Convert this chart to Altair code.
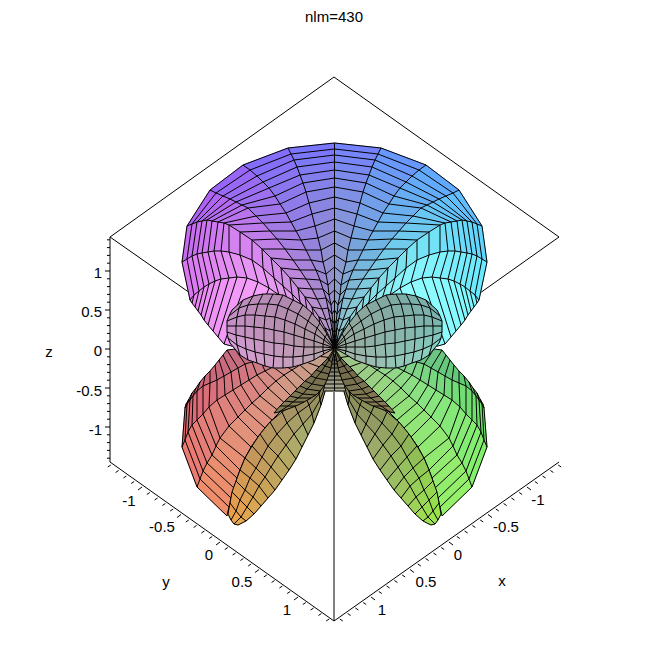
import altair as alt
import pandas as pd

# ---------- values (horizontal, vertical position in picture units) ----------
TOP_M0 = [(334.5, y) for y in [143,149,155,162,170,178,187,197,208,219,231,243,255,267,279,290,300,310,320,330,340,348]]
TOP_M1 = [(288,148),(291,154),(294,160),(297,167),(300,175),(303,183),(306,192),(309,203),(312,214),(315,226),(318,238),(321,250),(323,262),(326,274),(328,285),(329,295),(331,305),(332,314),(333,323),(333,332),(334,341),(334.5,348)]
TOP_M2 = [(243,165),(250,170),(257,176),(263,182),(269,188),(275,196),(280,204),(286,213),(291,222),(296,231),(301,240),(306,250),(311,260),(316,270),(320,280),(323,289),(326,298),(328,308),(330,318),(332,328),(333,339),(334.5,348)]
TOP_M3 = [(210,190),(216,193),(223,196),(230,199),(236,202),(242,205),(248,208),(256,216),(263,223),(270,231),(277,239),(285,249),(293,260),(300,270),(306,279),(312,289),(317,299),(322,309),(326,320),(330,331),(332,340),(334.5,348)]
TOP_M4 = [(187,226),(192,224),(197,222),(202,221),(207,220),(212,221),(218,222),(224,223),(229,225),(240,232),(252,240),(262,249),(271,258),(281,268),(290,278),(298,288),(305,297),(312,307),(319,317),(325,328),(331,340),(334.5,348)]
TOP_M5 = [(182,262),(187,259),(192,256),(197,254),(202,253),(208,252),(214,251),(221,251),(229,252),(240,255),(252,260),(263,268),(274,278),(283,286),(292,294),(300,302),(307,310),(314,318),(320,326),(326,334),(332,343),(334.5,348)]
TOP_M6 = [(190,300),(194,295),(199,291),(204,287),(209,284),(215,281),(221,279),(229,278),(237,277),(247,278),(258,282),(269,288),(279,295),(288,302),(296,309),(303,315),(310,321),(316,327),(322,333),(327,339),(332,345),(334.5,348)]
TOP_M7 = [(190,300),(192,303),(195,307),(198,311),(201,315),(204,320),(208,325),(213,331),(218,337),(224,344),(235,347),(245,350),(255,352),(265,353),(275,353),(285,353),(295,352),(305,351),(315,351),(324,350),(332,348),(334.5,348)]
TOP_MESH = [TOP_M0, TOP_M1, TOP_M2, TOP_M3, TOP_M4, TOP_M5, TOP_M6, TOP_M7]

LOBE_S = [(186,404),(189,399),(192,393),(196,388),(200,382),(205,376),(210,371),(215,365),(219,360),(223,355),(227,350),(235,349),(245,349),(255,349),(265,349),(275,349),(285,350),(297,350),(312,350),(328,349)]
LOBE_A1 = [(185,408),(187,404),(190,400),(193,396),(197,391),(203,386),(210,383),(217,380),(224,376),(231,372),(238,368),(245,364),(252,362),(260,360),(268,358),(276,356),(285,354),(296,353),(310,351),(328,349)]
LOBE_A2 = [(182,447),(185,440),(188,432),(192,425),(197,420),(203,414),(209,407),(217,400),(225,395),(233,390),(241,385),(249,380),(257,375),(265,371),(273,367),(281,363),(290,360),(298,358),(312,354),(328,350)]
LOBE_A3 = [(197,487),(200,479),(203,471),(207,463),(212,455),(216,446),(220,438),(229,426),(238,417),(245,410),(252,403),(260,396),(268,388),(276,381),(284,375),(292,370),(300,365),(306,362),(318,356),(330,350)]
LOBE_D = [(227,516),(229,507),(231,498),(234,488),(237,478),(240,470),(245,458),(251,447),(258,437),(265,428),(272,420),(280,412),(288,406),(296,401),(305,397),(314,390),(322,384),(328,370),(332,358),(334,350)]
LOBE_MESH = [LOBE_S, LOBE_A1, LOBE_A2, LOBE_A3, LOBE_D]

WEDGE_ROWS = [
    [(228,514),(231,520),(234,524),(238,525)],
    [(230,503),(236,511),(241,517),(246,521)],
    [(232,492),(240,500),(247,507),(254,514)],
    [(236,481),(245,490),(253,497),(261,506)],
    [(240,470),(250,478),(259,486),(268,498)],
    [(245,458),(256,468),(265,477),(275,490)],
    [(252,446),(262,457),(271,467),(282,480)],
    [(260,434),(268,446),(278,456),(289,470)],
    [(270,422),(277,434),(286,445),(296,459)],
    [(282,412),(287,423),(294,434),(302,447)],
    [(294,404),(298,413),(303,424),(308,435)],
    [(306,398),(309,405),(312,414),(314,423)],
    [(318,388),(319,394),(320,400),(321,405)],
    [(326,375),(326,379),(327,382),(327,385)],
    [(333,352),(333,353),(334,354),(334,355)],
]
LENS_ROWS = [
    [(232,310),(229,316),(227,321),(227,326),(227,332),(228,338),(230,343)],
    [(243,300),(239,308),(237,317),(236,326),(236,335),(237,345),(240,355)],
    [(253,296),(248,305),(245,315),(245,326),(245,337),(246,349),(248,360)],
    [(263,294),(258,304),(255,315),(254,327),(254,339),(255,352),(257,363)],
    [(273,294),(268,304),(265,316),(264,328),(264,341),(264,354),(265,366)],
    [(283,295),(278,305),(275,317),(274,330),(274,343),(274,356),(273,368)],
    [(293,300),(288,309),(285,320),(284,332),(284,344),(283,357),(283,368)],
    [(303,305),(298,314),(295,324),(294,335),(294,346),(293,357),(293,367)],
    [(312,313),(308,321),(305,329),(304,338),(304,347),(303,356),(303,364)],
    [(320,323),(317,328),(315,334),(314,341),(314,347),(314,354),(314,360)],
    [(327,334),(325,337),(324,340),(323,344),(323,347),(323,351),(324,354)],
    [(334.5,348),(334.5,348),(334.5,348),(334.5,348),(334.5,348),(334.5,348),(334.5,348)],
]
OLIVE_ROWS = [
    [(334,349),(334,350),(334,352)],
    [(328,358),(329,360),(332,362)],
    [(322,364),(325,366),(331,368)],
    [(316,370),(321,372),(329,374)],
    [(311,376),(316,378),(327,380)],
    [(305,381),(312,384),(324,386)],
    [(300,386),(307,389),(320,391)],
    [(295,391),(303,394),(316,395)],
    [(290,396),(298,398),(311,398)],
    [(285,401),(293,402),(304,402)],
    [(280,406),(288,406),(296,406)],
    [(274,413),(279,412),(285,410)],
]
LADDER_ROWS = [
    [(334.5,356),(333,356)],[(334.5,360),(331,360)],[(334.5,364),(330,364)],[(334.5,368),(329,368)],
    [(334.5,372),(328,372)],[(334.5,376),(327,376)],[(334.5,380),(326,380)],[(334.5,384),(325,384)],
    [(334.5,388),(324,388)],[(334.5,391),(323,391)],
]

# colour anchors: rows run from the outer edge towards the centre
TOP_L = [["#7878ff","#7a70ff","#8c68fb","#a060f8","#bb60f0","#d070f0","#e078f0","#f088f8"],
         ["#9090d0","#9088d8","#9c80e0","#b080e0","#d080f0","#e090f0","#f0a0f8","#f8a0f8"],
         ["#9a9ab8","#a090b8","#a890b8","#b098b8","#b8a0c0","#c0a0c8","#c8a8d0","#d0a8d0"]]
TOP_R = [["#7878ff","#6f8cff","#60a0ff","#60b0ff","#60c8ff","#60e0ff","#70f0ff","#80ffff"],
         ["#9090d0","#80a0d8","#70a8e0","#70c0e8","#70d8f0","#80f0f8","#90f8ff","#90ffff"],
         ["#9a9ab8","#90a8b0","#90b8c0","#98c0c0","#98c8c8","#a0d0d0","#a0d8d8","#a8e0e0"]]
RED = [["#d05a70","#e06070","#e86a70","#f08870","#f09060"],
       ["#c06880","#d06f80","#d87c80","#e08a80","#dd9a7e"],
       ["#b8708a","#c0808a","#c89088","#c8a090","#b8a088"]]
GREEN = [["#50c070","#60d860","#78f068","#90f070","#98f060"],
         ["#60c080","#70d080","#80e080","#90e880","#90e070"],
         ["#70b090","#88c098","#98c898","#a0c890","#a0b888"]]
WEDGE_L = [["#f0a048","#f0a048","#f0a850","#e8a850"],
           ["#d09858","#c89858","#c8a058","#c8a858"],
           ["#a89060","#a89868","#a8a868","#a8b070"],
           ["#807850","#807850","#888858","#888858"]]
WEDGE_R = [["#98e848","#98e848","#a0e850","#a0e050"],
           ["#90c850","#90c858","#98c860","#a0c060"],
           ["#889858","#909860","#98a068","#a0a870"],
           ["#807c50","#807c50","#888858","#888858"]]
LENS_L = [["#c090c0","#c890c8","#d8a0d8"],["#b088b0","#b890b0","#d0a0c8"],["#a09898","#a89898","#b0a8a8"]]
LENS_R = [["#78b0b0","#78b8b0","#88d8c8"],["#80a8a0","#88b0a8","#98c8b8"],["#98a298","#98a898","#a8b0a8"]]
OLIVE = [["#6a6448","#6a6448","#6a6448"],["#7a7450","#7a7450","#7a7450"],["#8a8058","#8a8058","#8a8058"]]
LADDER = [["#55503c","#55503c"],["#8a8a70","#8a8a70"],["#b0b098","#b0b098"]]

TITLE = "nlm=430"
Z_LABELS = [("1",273),("0.5",312),("0",351),("-0.5",391),("-1",430)]
Y_LABELS = [("-1",129,501),("-0.5",162,527),("0",209,555),("0.5",242,582),("1",287,610)]
X_LABELS = [("-1",538,500),("-0.5",506,527),("0",458,555),("0.5",426,582),("1",382,610)]
NAME_LABELS = [("z",49,352),("y",166,582),("x",502,581)]
FRAME_EDGES = [[(334,77),(110,237)],[(334,77),(559,237)],[(110,237),(190,293)],[(559,237),(480,293)],
               [(110,237),(110,462)],[(110,462),(334,621)],[(334,621),(559,462)],[(334,621),(334,392)]]
TICK_STEPS = list(range(-14, 15))

# ---------- helpers ----------
def hex2rgb(h):
    return [int(h[i:i+2], 16) for i in (1, 3, 5)]

def mix(a, b, t):
    return [a[i] + (b[i] - a[i]) * t for i in range(3)]

def shade(table, u, v):
    r = u * (len(table) - 1)
    i = min(int(r), len(table) - 2)
    rr = r - i
    c = v * (len(table[0]) - 1)
    j = min(int(c), len(table[0]) - 2)
    cc = c - j
    top = mix(hex2rgb(table[i][j]), hex2rgb(table[i][j+1]), cc)
    bot = mix(hex2rgb(table[i+1][j]), hex2rgb(table[i+1][j+1]), cc)
    m = mix(top, bot, rr)
    return "#%02x%02x%02x" % tuple(int(round(x)) for x in m)

def flip(rows):
    return [[(669 - x, y) for x, y in row] for row in rows]

def cols_to_rows(cols):
    return [list(r) for r in zip(*cols)]

X = alt.X("x:Q", scale=alt.Scale(domain=[8, 661]), axis=None)
Y = alt.Y("y:Q", scale=alt.Scale(domain=[661, 8]), axis=None)

def line_layer(recs, width=1.0, color="#000000"):
    return alt.Chart(pd.DataFrame(recs)).mark_line(strokeWidth=width, color=color).encode(
        x=X, y=Y, detail="id:N", order=alt.Order("o:Q"))

def mesh_layers(rows, table, tag):
    nr, nc = len(rows), len(rows[0])
    fills, lines = [], []
    for i in range(nr - 1):
        for j in range(nc - 1):
            c = shade(table, (i + .5) / (nr - 1), (j + .5) / (nc - 1))
            pid = f"{tag}{i}_{j}"
            for o, (a, b) in enumerate([(i, j), (i, j+1), (i+1, j+1), (i+1, j)]):
                fills.append(dict(id=pid, o=o, x=rows[a][b][0], y=rows[a][b][1], c=c))
    for i in range(nr):
        for j in range(nc):
            lines.append(dict(id=f"r{i}", o=j, x=rows[i][j][0], y=rows[i][j][1]))
    for j in range(nc):
        for i in range(nr):
            lines.append(dict(id=f"c{j}", o=i, x=rows[i][j][0], y=rows[i][j][1]))
    fill = alt.Chart(pd.DataFrame(fills)).mark_line(strokeWidth=0.8).encode(
        x=X, y=Y, detail="id:N", order=alt.Order("o:Q"),
        fill=alt.Fill("c:N", scale=None), stroke=alt.Stroke("c:N", scale=None))
    return [fill, line_layer(lines)]

# ---------- frame and ticks ----------
frame = []
for k, edge in enumerate(FRAME_EDGES):
    for o, (x, y) in enumerate(edge):
        frame.append(dict(id=f"e{k}", o=o, x=x, y=y))
for s in TICK_STEPS:
    v = s / 10
    major = s % 5 == 0
    zy = 349 - 78 * v
    frame += [dict(id=f"z{s}", o=0, x=110, y=zy), dict(id=f"z{s}", o=1, x=105 if major else 107, y=zy)]
    ax, ay = 220 + 78 * v, 542 + 55 * v
    dx, dy = (4, 3) if major else (3, 2)
    frame += [dict(id=f"y{s}", o=0, x=ax, y=ay), dict(id=f"y{s}", o=1, x=ax - dx, y=ay + dy)]
    bx, by = 449 - 78 * v, 542 + 55 * v
    frame += [dict(id=f"x{s}", o=0, x=bx, y=by), dict(id=f"x{s}", o=1, x=bx + dx, y=by + dy)]

# ---------- text ----------
texts = [dict(t=t, x=x, y=y) for t, x, y in Y_LABELS + X_LABELS + NAME_LABELS]
texts.append(dict(t=TITLE, x=334, y=17))
text_layer = alt.Chart(pd.DataFrame(texts)).mark_text(
    font="Liberation Sans", fontSize=15, color="#000000", align="center", baseline="middle"
).encode(x=X, y=Y, text="t:N")
ztext = alt.Chart(pd.DataFrame([dict(t=t, x=102, y=y) for t, y in Z_LABELS])).mark_text(
    font="Liberation Sans", fontSize=15, color="#000000", align="right", baseline="middle"
).encode(x=X, y=Y, text="t:N")

# ---------- assemble, back to front ----------
top_rows = cols_to_rows(TOP_MESH)
lobe_rows = cols_to_rows(LOBE_MESH)
layers = [line_layer(frame)]
layers += mesh_layers(lobe_rows, RED, "rl")
layers += mesh_layers(flip(lobe_rows), GREEN, "gr")
layers += mesh_layers(WEDGE_ROWS, WEDGE_L, "wl")
layers += mesh_layers(flip(WEDGE_ROWS), WEDGE_R, "wr")
layers += mesh_layers(LADDER_ROWS, LADDER, "ll")
layers += mesh_layers(flip(LADDER_ROWS), LADDER, "lr")
layers += mesh_layers(OLIVE_ROWS, OLIVE, "ol")
layers += mesh_layers(flip(OLIVE_ROWS), OLIVE, "or")
layers += mesh_layers(top_rows, TOP_L, "tl")
layers += mesh_layers(flip(top_rows), TOP_R, "tr")
layers += mesh_layers(LENS_ROWS, LENS_L, "el")
layers += mesh_layers(flip(LENS_ROWS), LENS_R, "er")
layers += [text_layer, ztext]

chart = alt.layer(*layers).properties(
    width=653, height=653, padding=0, autosize=alt.AutoSizeParams(type="none"), background="#ffffff"
).configure_view(stroke=None)

chart.save("out.html", embed_options={"renderer": "svg", "actions": False})
